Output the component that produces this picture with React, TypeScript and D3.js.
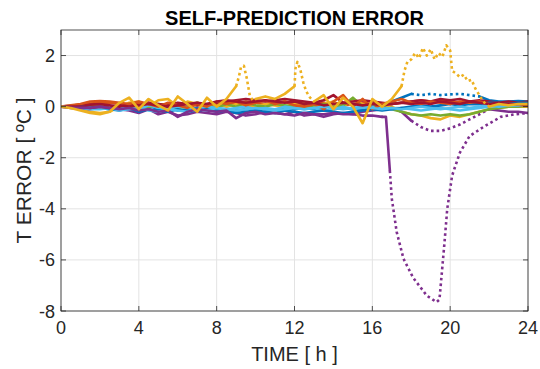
import * as d3 from "d3";

// time grid (h) shared by most curves
const HOURS = d3.range(0, 24.01, 0.5);

const X_TICKS = [0, 4, 8, 12, 16, 20, 24];
const Y_TICKS = [-8, -6, -4, -2, 0, 2];

const blue1 = [
  0, 0, 0.02, 0.03, 0.02, 0, -0.05, -0.1, -0.05, 0.05,
  -0.1, -0.05, -0.15, -0.1, -0.05, -0.1, -0.12, -0.08, -0.15, -0.1,
  -0.05, -0.1, -0.12, -0.08, -0.1, -0.05, -0.1, -0.15, -0.1, -0.05,
  -0.1, -0.08, -0.05, 0.05, 0.2, 0.35, 0.5, 0.45, 0.5, 0.45,
  0.48, 0.5, 0.45, 0.4, 0.25, 0.2, 0.2, 0.22, 0.2,
];
const blue2 = [
  0, 0.02, 0, -0.05, -0.05, -0.1, -0.15, -0.05, -0.2, -0.1,
  -0.15, -0.2, -0.1, -0.2, -0.15, -0.1, -0.2, -0.15, -0.25, -0.2,
  -0.15, -0.2, -0.25, -0.15, -0.2, -0.25, -0.2, -0.15, -0.2, -0.25,
  -0.2, -0.15, -0.1, -0.15, -0.1, -0.05, 0.0, 0.05, 0.0, 0.05,
  0.1, 0.05, 0.1, 0.1, 0.15, 0.15, 0.1, 0.15, 0.15,
];
const orange1 = [
  0, 0.03, 0.08, 0.12, 0.15, 0.15, 0.1, 0.05, 0.1, 0.15,
  0.05, 0.1, 0.05, 0.1, 0.15, 0.05, 0.1, 0.15, 0.1, 0.2,
  0.15, 0.1, 0.15, 0.2, 0.1, 0.05, 0.1, 0.15, 0.1, 0.05,
  0.1, 0.15, 0.1, 0.05, 0.1, 0.15, 0.2, 0.25, 0.2, 0.25,
  0.2, 0.15, 0.2, 0.15, 0.1, 0.1, 0.05, 0.05, 0.05,
];
const orange2 = [
  0, 0.05, 0.1, 0.2, 0.22, 0.2, 0.15, 0.1, 0.2, 0.1,
  0.0, 0.15, 0.05, -0.05, 0.1, 0.0, 0.2, 0.1, 0.2, 0.05,
  0.15, 0.25, 0.1, 0.2, 0.05, 0.0, 0.1, -0.1, 0.2, 0.45,
  0.0, 0.3, -0.1, 0.1, 0.2, 0.3, 0.15, 0.1, 0.2, 0.15,
  0.1, 0.2, 0.15, 0.2, 0.1, 0.05, 0.1, 0.05, 0.05,
];
const yellow1 = [
  0, -0.05, -0.15, -0.25, -0.3, -0.2, 0.15, 0.35, -0.1, 0.3,
  0.05, -0.15, 0.4, 0.1, -0.2, 0.35, 0.0, 0.3, 0.8, null,
  0.3, 0.4, 0.3, 0.5, 0.8, null, 0.2, 0.45, -0.1, 0.35,
  0.0, -0.65, 0.3, 0.0, 0.3, 0.8, null, null, null, null,
  null, null, null, null, 0.0, 0.1, 0.05, 0.1, 0.1,
];
const yellow2 = [
  0, -0.05, -0.1, -0.2, -0.25, -0.2, 0.0, 0.15, 0.2, 0.0,
  0.25, 0.3, 0.0, 0.2, 0.1, 0.05, 0.15, 0.0, 0.1, 0.05,
  0.0, 0.1, 0.05, 0.0, 0.1, 0.15, 0.0, 0.1, 0.2, 0.0,
  0.3, 0.1, 0.0, 0.1, 0.0, -0.2, -0.3, -0.35, -0.45, -0.5,
  -0.35, -0.4, -0.3, -0.2, -0.1, -0.05, 0.0, 0.0, 0.0,
];
const spike1Hours = [9.0, 9.15, 9.25, 9.4, 9.55, 9.7, 9.85, 10.0];
const spike1 = [0.8, 1.2, 1.55, 1.6, 1.1, 0.45, 0.25, 0.3];
const spike2Hours = [12.0, 12.05, 12.15, 12.3, 12.45, 12.6, 12.8, 13.0];
const spike2 = [0.8, 1.5, 1.75, 1.45, 0.95, 0.6, 0.35, 0.2];
const plateauHours = [
  17.5, 17.65, 17.8, 18.0, 18.2, 18.4, 18.6, 18.8, 19.0, 19.2, 19.4, 19.6,
  19.8, 20.0, 20.1, 20.3, 20.5, 20.7, 20.9, 21.1, 21.3, 21.5, 21.7, 22.0,
];
const plateau = [
  0.8, 1.4, 1.75, 1.85, 2.1, 1.9, 2.3, 2.0, 2.25, 1.85, 2.1, 1.95,
  2.4, 2.2, 1.4, 1.3, 1.15, 1.25, 1.0, 1.05, 0.7, 0.45, 0.2, 0.0,
];
const purple1 = [
  0, -0.05, -0.05, -0.05, 0.0, -0.05, -0.1, -0.05, -0.15, -0.1,
  -0.2, -0.15, -0.4, -0.2, -0.1, -0.15, -0.2, -0.15, -0.45, -0.25,
  -0.2, -0.3, -0.25, -0.3, -0.35, -0.25, -0.3, -0.3, -0.25, -0.3,
  -0.3, -0.35, -0.35, -0.4, null, null, null, null, null, null,
  null, null, null, null, null, null, null, null, null,
];
const dropHours = [16.5, 16.7, 16.9];
const drop = [-0.4, -0.4, -2.5];
const dipHours = [
  16.9, 17.0, 17.25, 17.6, 18.1, 18.8, 19.3, 19.45, 19.7,
  19.85, 20.1, 20.5, 21.0, 21.7, 22.6, 23.3, 24.0,
];
const dip = [
  -2.5, -3.6, -4.9, -5.95, -6.7, -7.4, -7.65, -7.55, -5.4,
  -4.0, -2.7, -1.8, -1.15, -0.8, -0.4, -0.3, -0.25,
];
const purple2 = [
  0, 0.0, -0.05, -0.1, -0.05, 0.0, -0.1, -0.15, -0.25, -0.1,
  -0.3, -0.2, -0.35, -0.3, -0.2, -0.25, -0.3, -0.2, -0.25, -0.35,
  -0.3, -0.2, -0.25, -0.3, -0.2, -0.35, -0.3, -0.4, -0.3, -0.25,
  -0.3, -0.2, -0.15, -0.1, -0.05, -0.2, -0.55, -0.8, -0.95, -0.95,
  -0.85, -0.7, -0.5, -0.3, -0.1, -0.15, -0.2, -0.2, -0.25,
];
const green1 = [
  0, 0.0, 0.02, 0.05, 0.05, 0.0, -0.05, 0.1, 0.0, -0.05,
  0.1, 0.05, -0.1, 0.0, 0.15, 0.05, -0.05, 0.1, 0.0, 0.15,
  0.05, 0.0, 0.1, 0.05, 0.0, -0.05, 0.05, 0.1, 0.0, 0.05,
  0.35, 0.0, 0.05, 0.0, -0.1, -0.2, -0.3, -0.35, -0.3, -0.35,
  -0.3, -0.35, -0.3, -0.2, -0.1, -0.05, 0.0, 0.0, 0.05,
];
const cyan1 = [
  0, 0.0, 0.0, -0.05, -0.05, -0.1, -0.05, 0.0, -0.1, 0.05,
  -0.05, -0.1, 0.0, -0.05, -0.1, 0.0, -0.05, -0.1, -0.05, 0.0,
  -0.1, -0.05, -0.1, 0.0, -0.05, -0.1, -0.05, -0.15, -0.1, 0.0,
  -0.1, -0.05, 0.0, -0.05, -0.1, -0.05, -0.1, -0.15, -0.1, -0.05,
  -0.1, -0.15, -0.1, -0.05, 0.0, 0.05, 0.05, 0.1, 0.1,
];
const cyan2 = [
  0, -0.02, -0.05, -0.1, -0.1, -0.05, -0.15, -0.1, -0.05, -0.15,
  -0.2, -0.1, -0.15, -0.2, -0.1, -0.15, -0.05, -0.1, -0.15, -0.1,
  -0.05, -0.1, -0.15, -0.1, -0.05, -0.1, -0.05, 0.0, -0.05, -0.1,
  -0.05, 0.0, -0.05, -0.1, -0.05, -0.1, -0.05, 0.0, -0.05, -0.1,
  -0.05, 0.0, -0.05, 0.0, 0.05, 0.0, 0.05, 0.05, 0.1,
];
const red1 = [
  0, 0.02, 0.05, 0.08, 0.1, 0.05, 0.0, 0.1, 0.05, 0.15,
  0.1, 0.05, 0.15, 0.1, 0.05, 0.1, 0.15, 0.2, 0.25, 0.3,
  0.25, 0.2, 0.25, 0.3, 0.25, 0.2, 0.15, 0.25, 0.45, 0.15,
  0.2, 0.25, 0.2, 0.15, 0.1, 0.15, 0.2, 0.25, 0.2, 0.3,
  0.25, 0.3, 0.2, 0.25, 0.2, 0.15, 0.2, 0.15, 0.2,
];
const red2 = [
  0, 0.0, 0.0, -0.05, 0.0, -0.05, 0.05, 0.0, 0.05, 0.1,
  0.05, 0.0, 0.05, 0.1, 0.15, 0.1, 0.2, 0.25, 0.2, 0.15,
  0.2, 0.25, 0.2, 0.15, 0.2, 0.1, 0.15, 0.05, 0.1, 0.15,
  0.1, 0.05, 0.1, 0.05, 0.1, 0.15, 0.1, 0.15, 0.1, 0.2,
  0.15, 0.1, 0.2, 0.15, 0.1, 0.15, 0.1, 0.1, 0.05,
];

const C = {
  blue: "#0072BD",
  orange: "#D95319",
  yellow: "#EDB120",
  purple: "#7E2F8E",
  green: "#77AC30",
  cyan: "#4DBEEE",
  red: "#A2142F",
};

type Curve = { hours: number[]; values: (number | null)[]; color: string; dotted?: [number, number] };

const curves: Curve[] = [
  { hours: HOURS, values: blue1, color: C.blue, dotted: [18, 21.5] },
  { hours: HOURS, values: orange1, color: C.orange },
  { hours: HOURS, values: yellow2, color: C.yellow },
  { hours: HOURS, values: purple2, color: C.purple, dotted: [18, 22] },
  { hours: HOURS, values: green1, color: C.green },
  { hours: HOURS, values: cyan1, color: C.cyan },
  { hours: HOURS, values: red1, color: C.red },
  { hours: HOURS, values: blue2, color: C.blue },
  { hours: HOURS, values: orange2, color: C.orange },
  { hours: HOURS, values: cyan2, color: C.cyan },
  { hours: HOURS, values: red2, color: C.red },
  { hours: HOURS, values: purple1, color: C.purple },
  { hours: dropHours, values: drop, color: C.purple },
  { hours: dipHours, values: dip, color: C.purple, dotted: [0, 24] },
  { hours: HOURS, values: yellow1, color: C.yellow },
  { hours: spike1Hours, values: spike1, color: C.yellow, dotted: [0, 24] },
  { hours: spike2Hours, values: spike2, color: C.yellow, dotted: [0, 24] },
  { hours: plateauHours, values: plateau, color: C.yellow, dotted: [0, 24] },
];

const W = 540;
const H = 369;
const L = 61, R = 528, T = 30, B = 311;
const FONT = "'Liberation Sans', Arial, Helvetica, sans-serif";
const INK = "#262626";

export default function App() {
  const x = d3.scaleLinear().domain([0, 24]).range([L, R]);
  const y = d3.scaleLinear().domain([-8, 3]).range([B, T]);

  const paths: { d: string; color: string; dotted: boolean }[] = [];
  curves.forEach((c) => {
    const pts = c.hours.map((h, i) => [h, c.values[i]] as [number, number | null]);
    const ok = (p: [number, number | null]) => p[1] !== null && !Number.isNaN(p[1]);
    if (!c.dotted) {
      const line = d3.line<[number, number | null]>().defined(ok).x((p) => x(p[0])).y((p) => y(p[1] as number));
      paths.push({ d: line(pts) || "", color: c.color, dotted: false });
      return;
    }
    const [a, b] = c.dotted;
    const solid = d3
      .line<[number, number | null]>()
      .defined((p) => ok(p) && !(p[0] > a && p[0] < b))
      .x((p) => x(p[0]))
      .y((p) => y(p[1] as number));
    const dots = d3
      .line<[number, number | null]>()
      .defined((p) => ok(p) && p[0] >= a && p[0] <= b)
      .x((p) => x(p[0]))
      .y((p) => y(p[1] as number));
    paths.push({ d: solid(pts) || "", color: c.color, dotted: false });
    paths.push({ d: dots(pts) || "", color: c.color, dotted: true });
  });

  return (
    <svg width={W} height={H} style={{ position: "absolute", left: 0, top: 0, background: "#fff" }} fontFamily={FONT}>
      <defs>
        <clipPath id="plot">
          <rect x={L} y={T} width={R - L} height={B - T} />
        </clipPath>
      </defs>
      <rect x={0} y={0} width={W} height={H} fill="#fff" />
      {/* grid */}
      {X_TICKS.map((t) => (
        <line key={"gx" + t} x1={x(t)} x2={x(t)} y1={T} y2={B} stroke="#e3e3e3" strokeWidth={1} />
      ))}
      {Y_TICKS.map((t) => (
        <line key={"gy" + t} x1={L} x2={R} y1={y(t)} y2={y(t)} stroke="#e3e3e3" strokeWidth={1} />
      ))}
      <g clipPath="url(#plot)" fill="none" strokeLinejoin="round">
        {paths.map((p, i) => (
          <path
            key={i}
            d={p.d}
            stroke={p.color}
            strokeWidth={2.6}
            strokeDasharray={p.dotted ? "2.6 3" : undefined}
            strokeLinecap={p.dotted ? "butt" : "round"}
          />
        ))}
      </g>
      {/* box and ticks */}
      <rect x={L} y={T} width={R - L} height={B - T} fill="none" stroke={INK} strokeWidth={0.8} />
      {X_TICKS.map((t) => (
        <g key={"tx" + t}>
          <line x1={x(t)} x2={x(t)} y1={B} y2={B - 5} stroke={INK} strokeWidth={0.8} />
          <line x1={x(t)} x2={x(t)} y1={T} y2={T + 5} stroke={INK} strokeWidth={0.8} />
          <text x={x(t)} y={B + 23} textAnchor="middle" fontSize={18} fill={INK}>
            {t}
          </text>
        </g>
      ))}
      {Y_TICKS.map((t) => (
        <g key={"ty" + t}>
          <line x1={L} x2={L + 5} y1={y(t)} y2={y(t)} stroke={INK} strokeWidth={0.8} />
          <line x1={R} x2={R - 5} y1={y(t)} y2={y(t)} stroke={INK} strokeWidth={0.8} />
          <text x={L - 6} y={y(t) + 6.5} textAnchor="end" fontSize={18} fill={INK}>
            {t}
          </text>
        </g>
      ))}
      <text x={(L + R) / 2} y={25} textAnchor="middle" fontSize={20} fontWeight="bold" fill="#000">
        SELF-PREDICTION ERROR
      </text>
      <text x={(L + R) / 2} y={361} textAnchor="middle" fontSize={20} fill={INK}>
        TIME [ h ]
      </text>
      <text transform={`translate(31,${(T + B) / 2}) rotate(-90)`} textAnchor="middle" fontSize={21} fill={INK}>
        T ERROR [ ºC ]
      </text>
    </svg>
  );
}
